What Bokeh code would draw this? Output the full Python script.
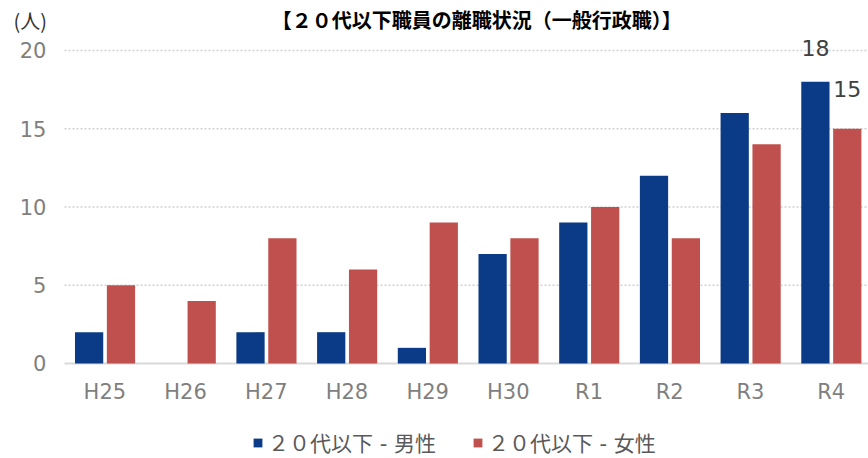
import numpy as np
from bokeh.plotting import figure
from bokeh.models import Range1d, ColumnDataSource, Legend, LegendItem
from bokeh.core.properties import value
from bokeh.embed import file_html
from bokeh.resources import INLINE

title_text = "【２０代以下職員の離職状況（一般行政職）】"
unit_text = "(人)"
categories = ["H25", "H26", "H27", "H28", "H29", "H30", "R1", "R2", "R3", "R4"]
male = [2, 0, 2, 2, 1, 7, 9, 12, 16, 18]
female = [5, 4, 8, 6, 9, 8, 10, 8, 14, 15]
series_names = ["２０代以下 - 男性", "２０代以下 - 女性"]
y_ticks = [0, 5, 10, 15, 20]

BLUE = "#0b3b86"
RED = "#c0504d"
FONT = "Noto Sans CJK JP"
NUM_FONT = "DejaVu Sans, Noto Sans CJK JP"
TICK_COLOR = "#7f7f7f"

n = len(categories)
centers = np.arange(n) + 0.5
OFF_M, OFF_F, BW = -0.195, 0.2, 0.35

src = ColumnDataSource(dict(xm=centers + OFF_M, xf=centers + OFF_F,
                            male=male, female=female))

p = figure(width=868, height=458, output_backend="svg", toolbar_location=None,
           x_range=Range1d(-0.793, 9.963), y_range=Range1d(-6.07, 23.19),
           x_axis_location=None, y_axis_location=None,
           min_border=0, min_border_left=0, min_border_right=0,
           min_border_top=0, min_border_bottom=0, outline_line_color=None)
p.grid.visible = False

# gridlines and baseline
grid_y = [t for t in y_ticks if t > 0]
p.segment(x0=[0] * len(grid_y), x1=[n] * len(grid_y), y0=grid_y, y1=grid_y,
          line_color="#d0d0d0", line_width=1.5, line_dash="2 2")
p.segment(x0=[0], x1=[n], y0=[0], y1=[0], line_color="#d9d9d9", line_width=2)

r1 = p.vbar(x="xm", top="male", width=BW, source=src, fill_color=BLUE, line_color=None)
r2 = p.vbar(x="xf", top="female", width=BW, source=src, fill_color=RED, line_color=None)

# y tick labels
p.text(x=[-0.224] * len(y_ticks), y=y_ticks, text=[str(t) for t in y_ticks],
       text_align="right", text_baseline="middle", text_font=value(NUM_FONT),
       text_font_size="21px", text_color=TICK_COLOR)
# x tick labels
p.text(x=centers, y=[-1.85] * n, text=categories, text_align="center",
       text_baseline="middle", text_font=value(NUM_FONT), text_font_size="21px",
       text_color=TICK_COLOR)

# data labels for the last year
p.text(x=[centers[-1] + OFF_M, centers[-1] + OFF_F], y=[male[-1], female[-1]],
       text=[str(male[-1]), str(female[-1])], y_offset=[-34, -40],
       text_align="center", text_baseline="middle", text_font=value(NUM_FONT),
       text_font_size="22px", text_color="#404040")

# unit label and title
p.text(x=[-0.423], y=[21.9], text=[unit_text], text_align="center",
       text_baseline="middle", text_font=value(FONT), text_font_size="20px",
       text_color="#333333")
p.text(x=[5.11], y=[21.95], text=[title_text], text_align="center",
       text_baseline="middle", text_font=value(FONT), text_font_size="20px",
       text_font_style="bold", text_color="#000000")

legend = Legend(items=[LegendItem(label=series_names[0], renderers=[r1]),
                       LegendItem(label=series_names[1], renderers=[r2])],
                orientation="horizontal", location=(252, 1),
                border_line_color=None, background_fill_alpha=0,
                glyph_width=11, glyph_height=11, label_text_font=NUM_FONT,
                label_text_font_size="21px", label_text_color="#595959",
                spacing=36, padding=0, margin=0, label_standoff=5)
p.add_layout(legend)

open("out.html", "w").write(file_html(p, INLINE))
